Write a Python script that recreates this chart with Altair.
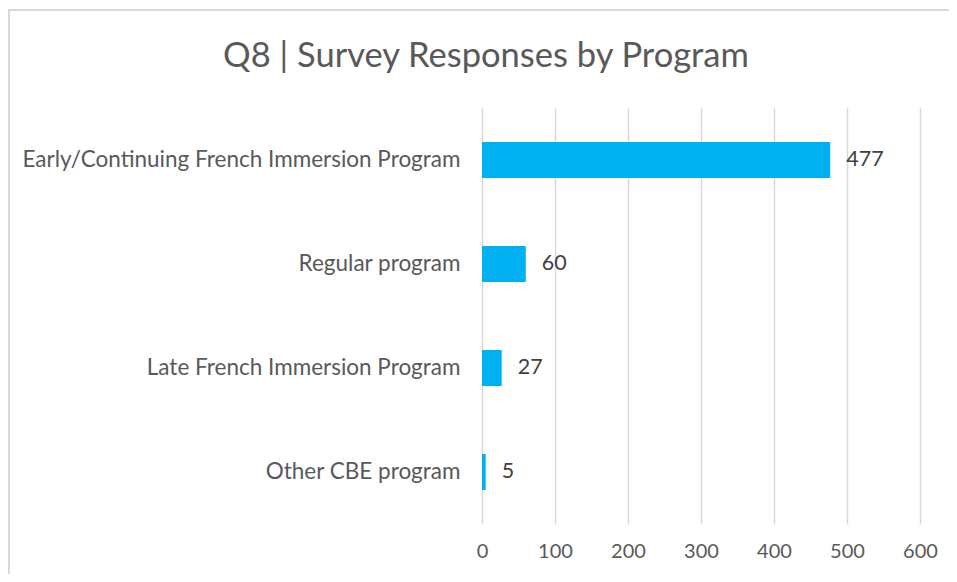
import altair as alt
import pandas as pd

programs = [
    "Early/Continuing French Immersion Program",
    "Regular program",
    "Late French Immersion Program",
    "Other CBE program",
]
responses = [477, 60, 27, 5]
x_ticks = [0, 100, 200, 300, 400, 500, 600]

df = pd.DataFrame({"program": programs, "responses": responses})

FONT = "Lato"
TEXT = "#595959"
BORDER = "#D9D9D9"

base = alt.Chart(df).encode(
    y=alt.Y(
        "program:N",
        sort=programs,
        title=None,
        scale=alt.Scale(paddingInner=0, paddingOuter=0),
        axis=alt.Axis(
            domain=False, ticks=False, labelPadding=22, labelFontSize=22.5,
            labelColor=TEXT, labelFont=FONT, labelLimit=700,
        ),
    ),
    x=alt.X(
        "responses:Q",
        title=None,
        scale=alt.Scale(domain=[0, 600], nice=False),
        axis=alt.Axis(
            values=x_ticks, domain=False, ticks=False, grid=True,
            gridColor=BORDER, gridWidth=1.5, labelPadding=17,
            labelFontSize=20, labelColor=TEXT, labelFont=FONT,
            labelFlush=False,
        ),
    ),
)

bars = base.mark_bar(size=36, color="#00B0F0")
labels = base.mark_text(align="left", baseline="middle", dx=16, fontSize=21.5,
                        color="#404040", font=FONT).encode(text="responses:Q")

# chart-area frame (top and left edges, as visible in the reference crop)
frame_top = alt.Chart(df).mark_rule(color=BORDER, strokeWidth=2, clip=False).encode(
    x=alt.value(-473), x2=alt.value(467), y=alt.value(-98)
)
frame_left = alt.Chart(df).mark_rule(color=BORDER, strokeWidth=2, clip=False).encode(
    x=alt.value(-473), y=alt.value(-99), y2=alt.value(466)
)

chart = (frame_top + frame_left + bars + labels).properties(
    width=438,
    height=416,
    autosize=alt.AutoSizeParams(type="none"),
    padding={"left": 474, "top": 100, "right": 29, "bottom": 50},
    title=alt.TitleParams(
        "Q8 | Survey Responses by Program",
        font=FONT, fontSize=34.5, fontWeight="normal", color=TEXT,
        anchor="middle", frame="group", dx=-215, offset=-66,
    ),
).configure_view(stroke=None)

chart.save("out.html", embed_options={"renderer": "svg", "actions": False})
